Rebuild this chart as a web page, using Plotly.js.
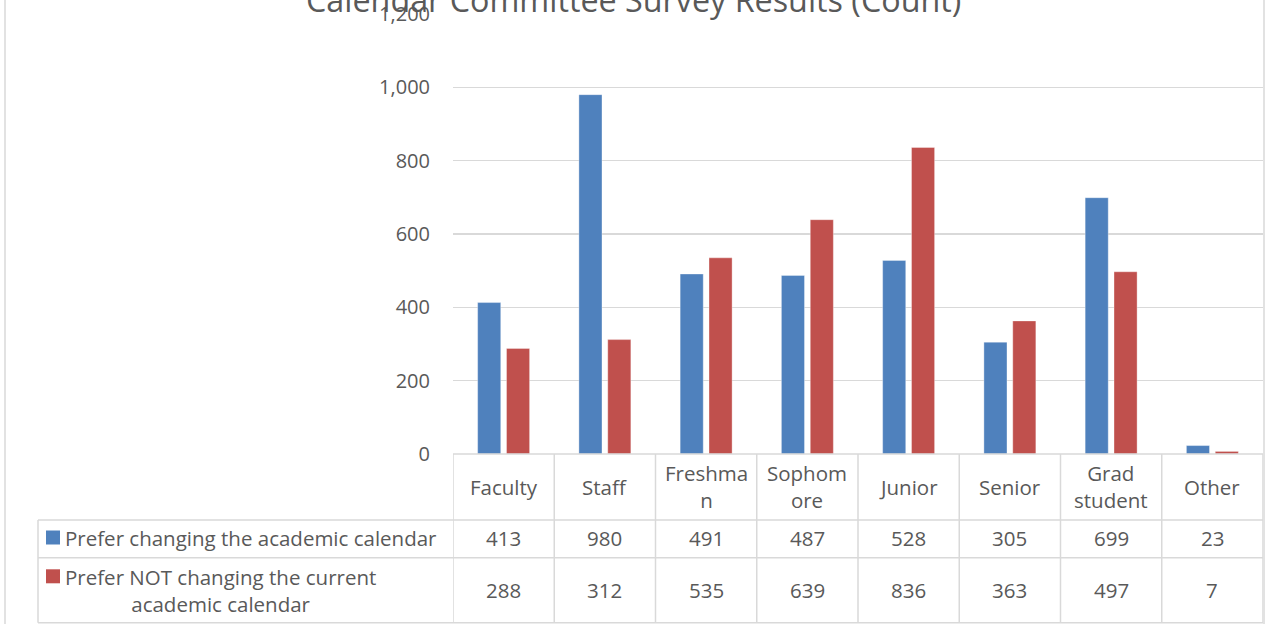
<!DOCTYPE html>
<html>
<head>
<meta charset="utf-8">
<script src="https://cdn.plot.ly/plotly-3.0.1.min.js"></script>
<style>
  html, body { margin: 0; padding: 0; background: #ffffff; }
  #chart { width: 1267px; height: 624px; }
</style>
</head>
<body>
<div id="chart"></div>
<script>
// ---- data ----
const chartTitle = 'Calendar Committee Survey Results (Count)';
const categories = ['Faculty', 'Staff', 'Freshman', 'Sophomore', 'Junior', 'Senior', 'Grad student', 'Other'];
const categoryLabels = ['Faculty', 'Staff', 'Freshma<br>n', 'Sophom<br>ore', 'Junior', 'Senior', 'Grad<br>student', 'Other'];
const seriesNames = ['Prefer changing the academic calendar', 'Prefer NOT changing the current academic calendar'];
const seriesLabels = ['Prefer changing the academic calendar', 'Prefer NOT changing the current<br>academic calendar'];
const preferChanging = [413, 980, 491, 487, 528, 305, 699, 23];
const preferNotChanging = [288, 312, 535, 639, 836, 363, 497, 7];
const yTickValues = [0, 200, 400, 600, 800, 1000, 1200];

// ---- layout geometry ----
const W = 1267, H = 624;
const M = {l: 453, r: 4, t: 14, b: 170};
const xp = p => (p - M.l) / (W - M.l - M.r);
const yp = p => (H - M.b - p) / (H - M.t - M.b);

const COL_BLUE = '#4F81BD';
const COL_RED = '#C0504D';
const GRID = '#d9d9d9';
const TXT = '#595959';
const FONT = '"Open Sans", Lato, sans-serif';

const traces = [
  {
    type: 'bar', name: seriesNames[0], x: categories, y: preferChanging,
    marker: {color: COL_BLUE, line: {color: 'rgba(255,255,255,0.35)', width: 1}}
  },
  {
    type: 'bar', name: seriesNames[1], x: categories, y: preferNotChanging,
    marker: {color: COL_RED, line: {color: 'rgba(255,255,255,0.35)', width: 1}}
  }
];

const shapes = [];
const lineStyle = {color: GRID, width: 1.5};
// chart frame (left / right edges)
shapes.push({type: 'line', xref: 'paper', yref: 'paper', x0: xp(5), x1: xp(5), y0: yp(-5), y1: yp(630), line: lineStyle});
shapes.push({type: 'line', xref: 'paper', yref: 'paper', x0: xp(1264), x1: xp(1264), y0: yp(-5), y1: yp(630), line: lineStyle});
// data table horizontal lines
shapes.push({type: 'line', xref: 'paper', yref: 'paper', x0: 0, x1: 1, y0: yp(454), y1: yp(454), line: lineStyle});
[520, 557.7, 622.7].forEach(py => {
  shapes.push({type: 'line', xref: 'paper', yref: 'paper', x0: xp(38), x1: 1, y0: yp(py), y1: yp(py), line: lineStyle});
});
// vertical column separators (on category axis)
for (let i = 0; i <= categories.length; i++) {
  shapes.push({type: 'line', xref: 'x', yref: 'paper', x0: i - 0.5, x1: i - 0.5, y0: yp(454), y1: yp(622.7), line: lineStyle});
}
shapes.push({type: 'line', xref: 'paper', yref: 'paper', x0: xp(38), x1: xp(38), y0: yp(520), y1: yp(622.7), line: lineStyle});
// legend keys
const keyRows = [537.5, 576.3];
[COL_BLUE, COL_RED].forEach((c, k) => {
  shapes.push({type: 'rect', xref: 'paper', yref: 'paper', x0: xp(46), x1: xp(60), y0: yp(keyRows[k] - 7), y1: yp(keyRows[k] + 7), fillcolor: c, line: {width: 0}});
});

const annotations = [];
annotations.push({
  xref: 'paper', yref: 'paper', x: xp(633.5), y: yp(-1), xanchor: 'center', yanchor: 'middle',
  text: chartTitle, showarrow: false, font: {family: FONT, size: 32.3, color: TXT}
});
const tf = {family: FONT, size: 20.5, color: TXT};
categories.forEach((c, i) => {
  annotations.push({xref: 'x', yref: 'paper', x: c, y: yp(486.5), xanchor: 'center', yanchor: 'middle', text: categoryLabels[i], showarrow: false, font: tf});
  annotations.push({xref: 'x', yref: 'paper', x: c, y: yp(537.5), xanchor: 'center', yanchor: 'middle', text: String(preferChanging[i]), showarrow: false, font: tf});
  annotations.push({xref: 'x', yref: 'paper', x: c, y: yp(590), xanchor: 'center', yanchor: 'middle', text: String(preferNotChanging[i]), showarrow: false, font: tf});
});
annotations.push({xref: 'paper', yref: 'paper', x: xp(63), y: yp(537.5), xanchor: 'left', yanchor: 'middle', align: 'left', text: seriesLabels[0], showarrow: false, font: tf});
annotations.push({xref: 'paper', yref: 'paper', x: xp(63), y: yp(590), xanchor: 'left', yanchor: 'middle', align: 'center', text: seriesLabels[1], showarrow: false, font: tf});

const layout = {
  width: W, height: H,
  margin: M,
  paper_bgcolor: '#ffffff', plot_bgcolor: '#ffffff',
  showlegend: false,
  barmode: 'group', bargap: 0.43, bargroupgap: 0.2,
  font: {family: FONT, color: TXT, size: 20},
  xaxis: {
    type: 'category', showticklabels: false, showgrid: false, zeroline: false, showline: false, ticks: '',
    range: [-0.5, categories.length - 0.5]
  },
  yaxis: {
    range: [0, 1200], tickvals: yTickValues, tickformat: ',d',
    showgrid: true, gridcolor: GRID, gridwidth: 1.5, zeroline: false, showline: false, ticks: '',
    ticklabelstandoff: 22,
    tickfont: {family: FONT, size: 20, color: TXT}
  },
  shapes: shapes,
  annotations: annotations
};

Plotly.newPlot('chart', traces, layout, {staticPlot: true, displayModeBar: false});
</script>
</body>
</html>
